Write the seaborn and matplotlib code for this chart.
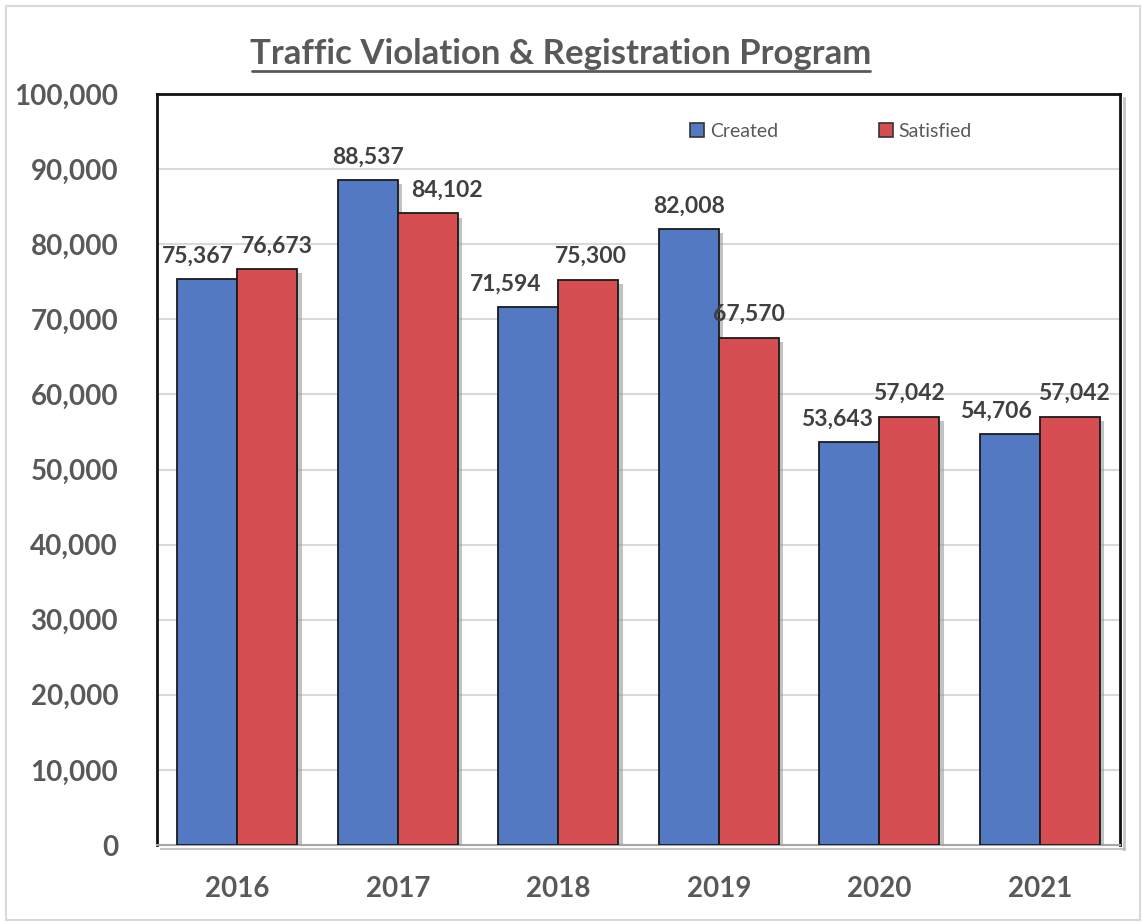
import matplotlib
matplotlib.use("Agg")
import matplotlib.pyplot as plt
import matplotlib.patheffects as pe
from matplotlib.patches import Rectangle
import seaborn as sns
import pandas as pd

years = ["2016", "2017", "2018", "2019", "2020", "2021"]
created = [75367, 88537, 71594, 82008, 53643, 54706]
satisfied = [76673, 84102, 75300, 67570, 57042, 57042]
series_names = ["Created", "Satisfied"]
colors = ["#5279C2", "#D64E51"]

# horizontal nudges (points) that keep neighbouring value labels apart
label_nudge = [
    [-7, 0, -16, 0, -9, -10],
    [7, 14, 2, 0, 0, 3],
]

df = pd.DataFrame({
    "Year": years * 2,
    "Count": created + satisfied,
    "Series": [series_names[0]] * len(years) + [series_names[1]] * len(years),
})

sns.set_theme(style="white")
plt.rcParams["font.family"] = ["Lato", "DejaVu Sans"]

fig = plt.figure(figsize=(11.42, 9.22), dpi=100)
ax = fig.add_axes([0.1375, 0.0835, 0.8432, 0.8145])

sns.barplot(data=df, x="Year", y="Count", hue="Series", palette=colors,
            width=0.75, edgecolor="#1a1a1a", linewidth=1.3, saturation=1,
            ax=ax, zorder=3)

shadow = [pe.SimplePatchShadow(offset=(3, -3), shadow_rgbFace="#9a9a9a", alpha=0.6), pe.Normal()]
for k, cont in enumerate(ax.containers):
    for bar in cont:
        bar.set_path_effects(shadow)
    anns = ax.bar_label(cont, labels=[f"{int(v):,}" for v in cont.datavalues],
                        padding=9, fontsize=16.5, fontweight="bold", color="#404040")
    for ann, dx in zip(anns, label_nudge[k]):
        ann.xyann = (dx, 9)

ax.set_ylim(0, 100000)
ax.set_yticks(range(0, 100001, 10000))
ax.set_yticklabels([f"{v:,}" for v in range(0, 100001, 10000)])
ax.yaxis.grid(True, color="#d9d9d9", linewidth=1.5, zorder=0)
ax.set_axisbelow(True)
ax.tick_params(axis="y", labelsize=20, labelcolor="#595959", pad=28, length=0)
ax.tick_params(axis="x", labelsize=20, labelcolor="#595959", pad=22, length=0)
for lbl in ax.get_xticklabels() + ax.get_yticklabels():
    lbl.set_fontweight("bold")
ax.set_xlabel("")
ax.set_ylabel("")

for side in ["left", "top", "right"]:
    ax.spines[side].set_color("#111111")
    ax.spines[side].set_linewidth(2)
ax.spines["bottom"].set_color("#a6a6a6")
ax.spines["bottom"].set_linewidth(1.5)
frame_shadow = [pe.SimpleLineShadow(offset=(3, -3), shadow_color="#a0a0a0", alpha=0.6), pe.Normal()]
for side in ["right", "bottom"]:
    ax.spines[side].set_path_effects(frame_shadow)

leg = ax.legend(loc="upper center", bbox_to_anchor=(0.70, 0.985), ncol=2, frameon=False,
                fontsize=14, handlelength=0.7, handleheight=0.7, columnspacing=5.2,
                handletextpad=0.3)
for txt in leg.get_texts():
    txt.set_color("#595959")
for h in leg.legend_handles:
    h.set_edgecolor("#333333")
    h.set_linewidth(1.2)
    h.set_path_effects([])

fig.text(0.491, 0.941, "Traffic Violation & Registration Program", ha="center", va="center",
         fontsize=25, fontweight="bold", color="#595959")
fig.add_artist(plt.Line2D([0.2205, 0.762], [0.923, 0.923], color="#595959", linewidth=2,
                          transform=fig.transFigure))

fig.add_artist(Rectangle((0.005, 0.002), 0.993, 0.991, transform=fig.transFigure,
                         fill=False, edgecolor="#d9d9d9", linewidth=1.5))

fig.savefig("out.png", dpi=100)
